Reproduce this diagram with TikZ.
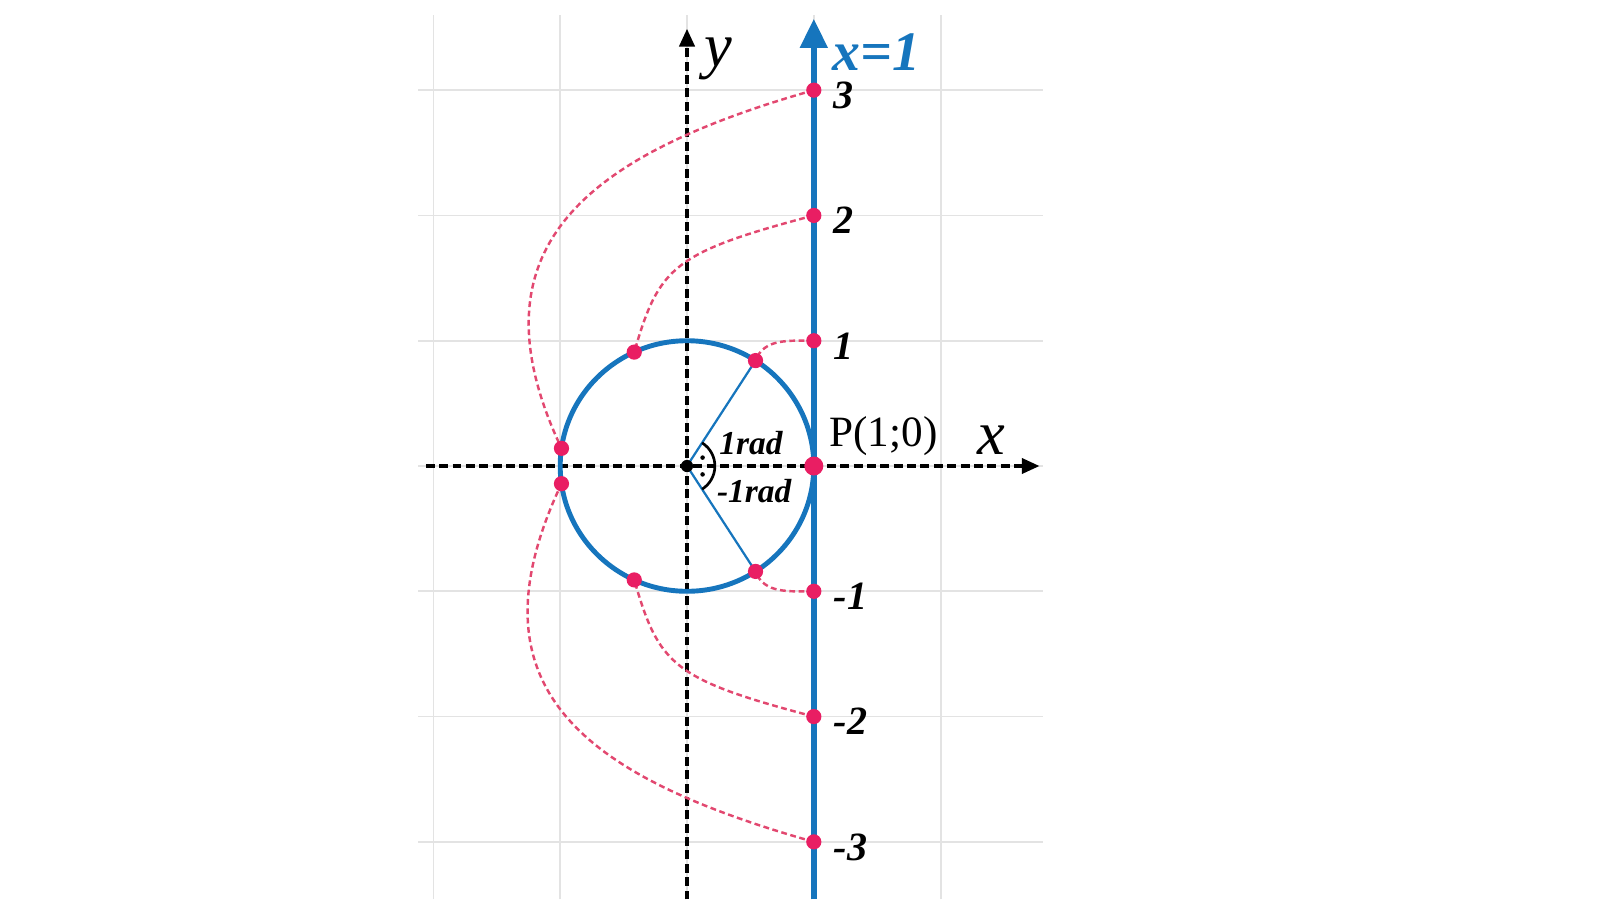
\documentclass[tikz,border=0pt]{standalone}
\usepackage{fontspec}
\setmainfont{Liberation Serif}
\usetikzlibrary{arrows.meta,positioning}
\definecolor{unitblue}{RGB}{22,117,189}
\definecolor{dotpink}{RGB}{233,30,99}
\definecolor{wrappink}{RGB}{226,72,112}
\tikzset{
	gridline/.style={line width=0.4pt, color=black!11},
	axis/.style={line width=0.75pt, dash pattern=on 2pt off 1pt, -{Triangle[length=1.4mm,width=1.2mm]}},
	wrap/.style={line width=0.55pt, color=wrappink, dash pattern=on 1.3pt off 0.8pt},
	num/.style={inner sep=0pt, font=\fontsize{9}{9}\selectfont\bfseries\itshape},
	radlabel/.style={inner sep=0pt, font=\fontsize{7.5}{7.5}\selectfont\bfseries\itshape},
}

\begin{document}
\begin{tikzpicture}[x=1cm, y=0.988cm]
	%%%%% START %%%%%
	\useasboundingbox (-5.418cm,-3.415cm) rectangle (7.200cm,3.675cm);

	% grid
	\foreach \i in {-2,...,2} \draw[gridline] (\i,-3.46) -- (\i,3.6);
	\foreach \j in {-3,...,3} \draw[gridline] (-2.12,\j) -- (2.81,\j);

	% axes
	\coordinate (O) at (0,0);
	\coordinate (P) at (1,0);
	\draw[axis] (-2.06,0) -- (2.78,0);
	\draw[axis] (0,-3.46) -- (0,3.49);

	% the line x=1 and the unit circle
	\draw[unitblue, line width=1.35pt, -{Triangle[length=2.3mm,width=2.1mm]}] (1,-3.46) -- (1,3.57);
	\draw[unitblue, line width=1.1pt] (O) circle (1);

	\foreach \k in {1,2,3} {
		\coordinate (L\k) at (1,\k);
		\coordinate (Lm\k) at (1,-\k);
		\coordinate (C\k) at ({deg(\k)}:1);
		\coordinate (Cm\k) at ({-deg(\k)}:1);
	}

	% radii and angle mark
	\draw[unitblue, line width=0.5pt] (C1) -- (O) -- (Cm1);
	\draw[line width=0.6pt] ({deg(1)}:0.22) arc ({deg(1)}:{-deg(1)}:0.22);
	\fill ({deg(0.5)}:0.14) circle (0.018cm);
	\fill ({-deg(0.5)}:0.14) circle (0.018cm);

	% wrapping the line round the circle
	\draw[wrap] (L1) to[out=180, in=70] (C1);
	\draw[wrap] (L2) .. controls +(195:1.15) and +(74:0.71) .. (C2);
	\draw[wrap] (L3) .. controls +(196:1.9) and +(115:1.75) .. (C3);
	\draw[wrap] (Lm1) to[out=180, in=-70] (Cm1);
	\draw[wrap] (Lm2) .. controls +(165:1.15) and +(-74:0.71) .. (Cm2);
	\draw[wrap] (Lm3) .. controls +(164:1.9) and +(-115:1.8) .. (Cm3);

	% points
	\foreach \p in {L1,L2,L3,Lm1,Lm2,Lm3,C1,C2,C3,Cm1,Cm2,Cm3} \fill[dotpink] (\p) circle (0.06cm);
	\fill[dotpink] (P) circle (0.075cm);
	\fill (O) circle (0.048cm);

	% labels
	\foreach \k in {1,2,3} {
		\node[num, right=1.5mm of L\k, yshift=-0.4mm] (n\k) {\k};
		\node[num, right=1.5mm of Lm\k, yshift=-0.4mm] (nm\k) {-\k};
	}
	\node[inner sep=0pt, anchor=west, text=unitblue, font=\fontsize{12.5}{12.5}\selectfont\bfseries\itshape] (xone) at (1.143,3.3) {x=1};
	\node[inner sep=0pt, font=\fontsize{14}{14}\selectfont\itshape] (ylab) at (0.25,3.25) {y};
	\node[inner sep=0pt, font=\fontsize{14}{14}\selectfont\itshape] (xlab) at (2.40,0.21) {x};
	\node[inner sep=0pt, font=\fontsize{9.7}{9.7}\selectfont] (plab) at (1.55,0.24) {P(1;0)};
	\node[radlabel] (rad) at (0.505,0.18) {1rad};
	\node[radlabel] (mrad) at (0.53,-0.20) {-1rad};

	%%%%% END %%%%%
\end{tikzpicture}
\end{document}
